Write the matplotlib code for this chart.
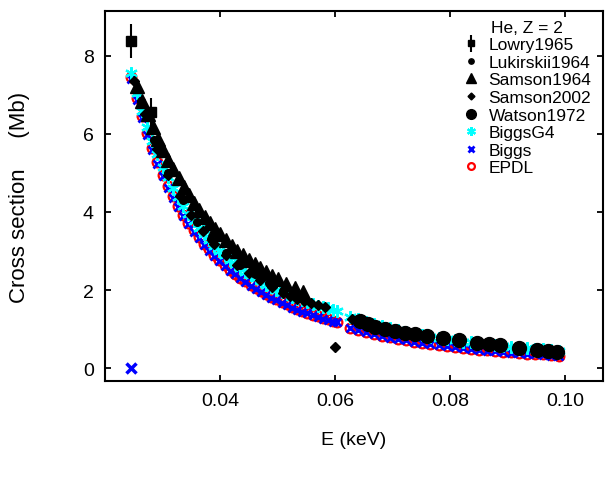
import matplotlib
matplotlib.use('Agg')
import matplotlib.pyplot as plt

plt.rcParams['font.family'] = ['Liberation Sans', 'DejaVu Sans']

# theory energy grid (keV); there is a gap near the 60 eV resonance
theory_energy = [
    0.0246, 0.0255, 0.0264, 0.0273, 0.0282, 0.0291, 0.0300, 0.0309, 0.0318,
    0.0327, 0.0336, 0.0345, 0.0354, 0.0363, 0.0372, 0.0381, 0.0390, 0.0399,
    0.0408, 0.0417, 0.0426, 0.0435, 0.0444, 0.0453, 0.0462, 0.0471, 0.0480,
    0.0489, 0.0498, 0.0507, 0.0516, 0.0525, 0.0534, 0.0543, 0.0552, 0.0561,
    0.0570, 0.0579, 0.0588, 0.0596, 0.0603,
    0.0626, 0.0640, 0.0654, 0.0668, 0.0682, 0.0696, 0.0710, 0.0724, 0.0738,
    0.0752, 0.0766, 0.0780, 0.0794, 0.0808, 0.0822, 0.0836, 0.0850, 0.0864,
    0.0878, 0.0892, 0.0906, 0.0920, 0.0934, 0.0948, 0.0962, 0.0976, 0.0990,
]
epdl_xs = [
    7.45, 6.92, 6.45, 6.02, 5.63, 5.28, 4.96, 4.67, 4.40,
    4.16, 3.93, 3.72, 3.53, 3.36, 3.19, 3.04, 2.90, 2.76,
    2.64, 2.52, 2.42, 2.32, 2.22, 2.13, 2.05, 1.97, 1.89,
    1.82, 1.76, 1.69, 1.63, 1.57, 1.52, 1.47, 1.42, 1.37,
    1.33, 1.29, 1.25, 1.21, 1.19,
    1.04, 0.98, 0.93, 0.88, 0.83, 0.79, 0.75, 0.72, 0.68,
    0.65, 0.62, 0.59, 0.57, 0.54, 0.52, 0.50, 0.47, 0.46,
    0.44, 0.42, 0.40, 0.39, 0.37, 0.36, 0.35, 0.33, 0.32,
]
biggs_xs = [
    7.40, 6.87, 6.40, 5.97, 5.58, 5.23, 4.91, 4.62, 4.36,
    4.12, 3.89, 3.68, 3.50, 3.33, 3.16, 3.01, 2.87, 2.74,
    2.62, 2.50, 2.40, 2.30, 2.20, 2.11, 2.03, 1.95, 1.87,
    1.80, 1.74, 1.67, 1.61, 1.55, 1.50, 1.45, 1.40, 1.35,
    1.31, 1.27, 1.23, 1.19, 1.17,
    1.03, 0.97, 0.92, 0.87, 0.82, 0.78, 0.74, 0.71, 0.67,
    0.64, 0.61, 0.58, 0.56, 0.53, 0.51, 0.49, 0.46, 0.45,
    0.43, 0.41, 0.39, 0.38, 0.36, 0.35, 0.34, 0.32, 0.31,
]
biggs_edge_energy = [0.0246]
biggs_edge_xs = [0.0]
biggsg4_xs = [
    7.55, 7.04, 6.59, 6.18, 5.81, 5.48, 5.16, 4.89, 4.62,
    4.38, 4.16, 3.95, 3.76, 3.60, 3.43, 3.28, 3.14, 3.01,
    2.89, 2.77, 2.67, 2.57, 2.47, 2.38, 2.30, 2.22, 2.14,
    2.07, 2.01, 1.95, 1.89, 1.83, 1.78, 1.74, 1.69, 1.64,
    1.60, 1.57, 1.53, 1.49, 1.47,
    1.32, 1.25, 1.19, 1.13, 1.07, 1.02, 0.97, 0.93, 0.88,
    0.84, 0.80, 0.77, 0.74, 0.71, 0.68, 0.66, 0.63, 0.61,
    0.59, 0.57, 0.54, 0.53, 0.51, 0.49, 0.48, 0.46, 0.45,
]

# experimental data
lowry_energy = [0.0245, 0.0280]
lowry_xs = [8.38, 6.56]
lowry_err = [0.43, 0.35]

lukirskii_energy = [0.0262, 0.0285, 0.0310, 0.0335, 0.0360, 0.0385,
                    0.0410, 0.0435, 0.0460, 0.0485, 0.0510, 0.0540]
lukirskii_xs = [6.85, 5.85, 5.00, 4.30, 3.75, 3.30,
                2.95, 2.65, 2.40, 2.18, 1.98, 1.80]

samson1964_energy = [
    0.0256, 0.0265, 0.0274, 0.0283, 0.0292, 0.0301, 0.0310, 0.0319, 0.0328,
    0.0337, 0.0346, 0.0355, 0.0364, 0.0373, 0.0382, 0.0391, 0.0400, 0.0410,
    0.0420, 0.0430, 0.0440, 0.0450, 0.0460, 0.0470, 0.0480, 0.0490, 0.0500,
    0.0515, 0.0530, 0.0545,
]
samson1964_xs = [
    7.22, 6.85, 6.50, 6.17, 5.87, 5.59, 5.33, 5.09, 4.86,
    4.64, 4.43, 4.23, 4.05, 3.88, 3.72, 3.57, 3.43, 3.28,
    3.14, 3.01, 2.89, 2.77, 2.66, 2.56, 2.46, 2.37, 2.28,
    2.15, 2.04, 1.94,
]

samson2002_energy = [
    0.0250, 0.0270, 0.0290, 0.0310, 0.0330, 0.0350, 0.0370, 0.0390, 0.0410,
    0.0430, 0.0450, 0.0470, 0.0490, 0.0510, 0.0522, 0.0534, 0.0546, 0.0558,
    0.0570, 0.0582, 0.0600, 0.0629,
]
samson2002_xs = [
    7.35, 6.50, 5.62, 4.95, 4.40, 3.92, 3.52, 3.18, 2.90,
    2.65, 2.43, 2.25, 2.08, 1.92, 1.84, 1.78, 1.72, 1.67,
    1.62, 1.57, 0.55, 1.26,
]

watson_energy = [0.0643, 0.0657, 0.0670, 0.0687, 0.0704, 0.0721, 0.0739,
                 0.0760, 0.0788, 0.0815, 0.0847, 0.0868, 0.0887, 0.0920,
                 0.0951, 0.0970, 0.0986]
watson_xs = [1.20, 1.12, 1.05, 1.00, 0.95, 0.91, 0.87, 0.82, 0.77, 0.71,
             0.65, 0.62, 0.59, 0.52, 0.46, 0.43, 0.41]

x_ticks = [0.04, 0.06, 0.08, 0.10]
x_tick_labels = ['0.04', '0.06', '0.08', '0.10']
y_ticks = [0, 2, 4, 6, 8]

figure = plt.figure(figsize=(6.05, 4.85), dpi=100)
axes = figure.add_axes([0.1736, 0.2124, 0.8231, 0.7629])

h_epdl, = axes.plot(theory_energy, epdl_xs, 'o', ls='none', ms=7,
                    mfc='none', mec='red', mew=1.6)
h_biggs, = axes.plot(theory_energy, biggs_xs, 'x', ls='none', ms=5.5,
                     color='blue', mew=2.0)
axes.plot(biggs_edge_energy, biggs_edge_xs, 'x', ls='none', ms=6.5,
          color='blue', mew=2.5)
h_g4, = axes.plot(theory_energy, biggsg4_xs, marker=(6, 2, 0), ls='none',
                  ms=9, color='cyan', mec='cyan', mew=1.6)

h_lowry = axes.errorbar(lowry_energy, lowry_xs, yerr=lowry_err, fmt='s',
                        color='black', ms=7, elinewidth=1.5, capsize=0)
h_luk, = axes.plot(lukirskii_energy, lukirskii_xs, 'o', ls='none', ms=5.5,
                   color='black')
h_s64, = axes.plot(samson1964_energy, samson1964_xs, '^', ls='none', ms=10.5,
                   color='black')
h_s02, = axes.plot(samson2002_energy, samson2002_xs, 'D', ls='none', ms=5,
                   color='black')
h_wat, = axes.plot(watson_energy, watson_xs, 'o', ls='none', ms=10,
                   color='black')

axes.set_xlim(0.02, 0.1066)
axes.set_ylim(-0.33, 9.15)
axes.set_xticks(x_ticks)
axes.set_xticklabels(x_tick_labels)
axes.set_yticks(y_ticks)
axes.tick_params(direction='in', top=True, right=True, length=4, width=1.3,
                 labelsize=14, pad=8)
for spine in axes.spines.values():
    spine.set_linewidth(1.5)

axes.set_xlabel('E (keV)', fontsize=14)
axes.set_ylabel('Cross section     (Mb)', fontsize=16)
axes.xaxis.set_label_coords(0.5, -0.135)
axes.yaxis.set_label_coords(-0.15, 0.5)

legend = axes.legend(
    [h_lowry, h_luk, h_s64, h_s02, h_wat, h_g4, h_biggs, h_epdl],
    ['Lowry1965', 'Lukirskii1964', 'Samson1964', 'Samson2002', 'Watson1972',
     'BiggsG4', 'Biggs', 'EPDL'],
    title='He, Z = 2', loc='upper right', frameon=False, fontsize=12.5,
    title_fontsize=12.5, labelspacing=0.14, handlelength=1.0,
    handletextpad=0.5, borderpad=0.0, markerscale=0.7,
    bbox_to_anchor=(600 / 605, 1 - 12 / 485),
    bbox_transform=figure.transFigure)

figure.savefig('out.png', dpi=100)
